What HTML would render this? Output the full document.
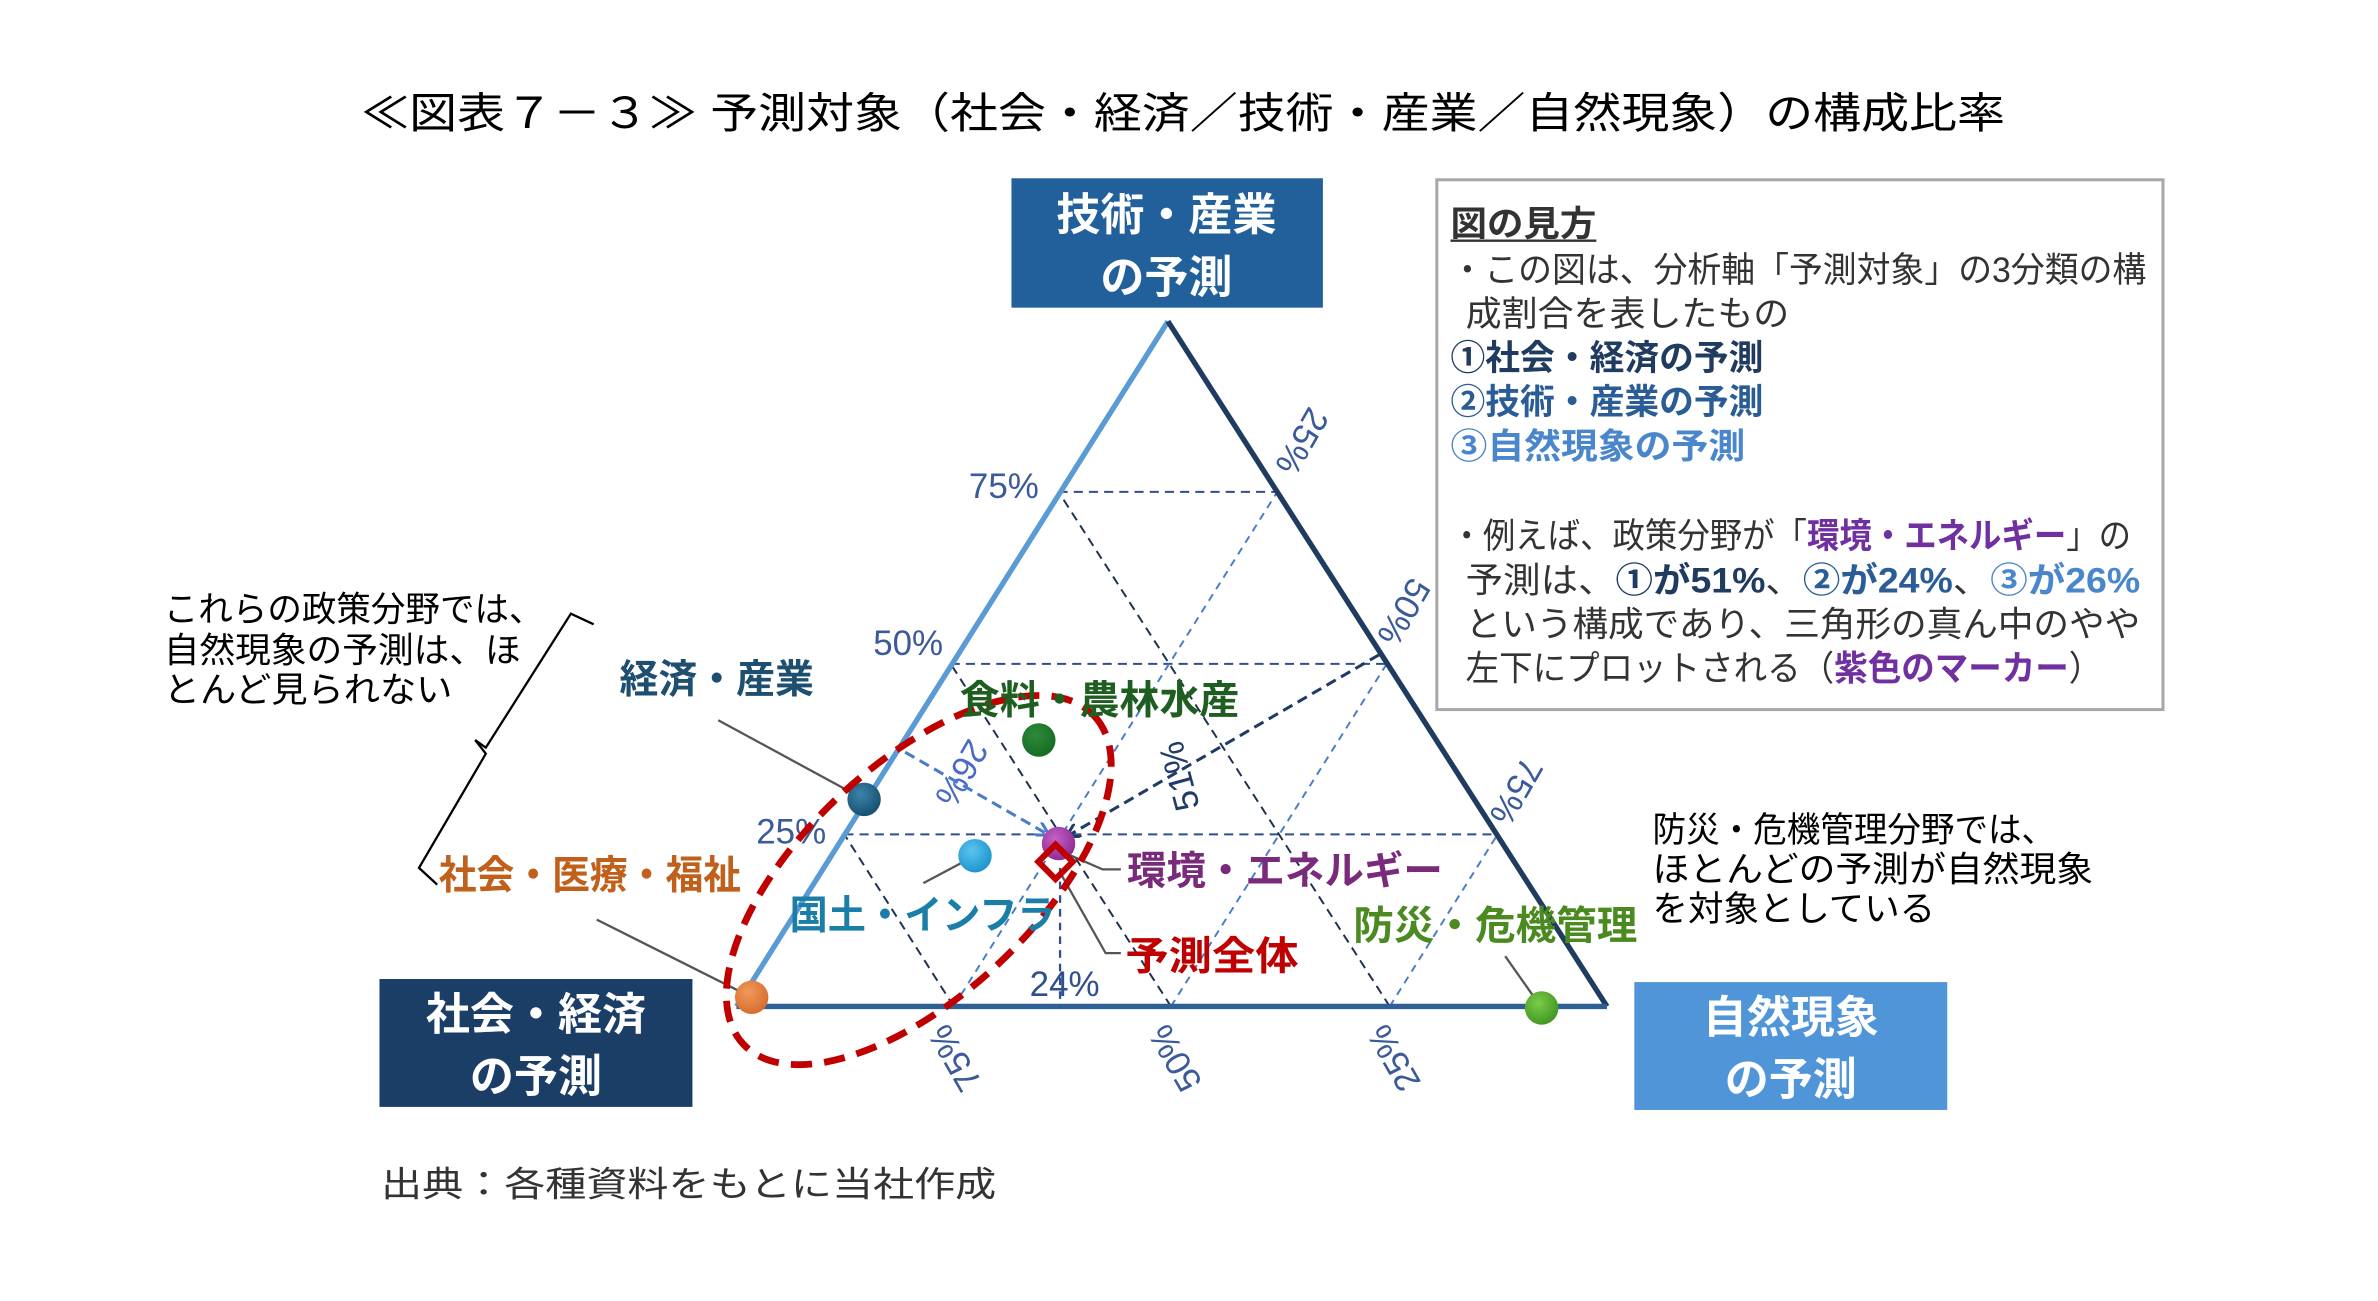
<!DOCTYPE html>
<html><head><meta charset="utf-8">
<style>
html,body{margin:0;padding:0;background:#fff;}
svg{display:block;}
text{font-family:"Liberation Sans","Noto Sans CJK JP",sans-serif;}
</style></head>
<body>
<svg width="2378" height="1301" viewBox="0 0 1560 853.4" preserveAspectRatio="none" xmlns="http://www.w3.org/2000/svg">
<defs>
<marker id="ahB" markerWidth="10" markerHeight="10" refX="8" refY="5" orient="auto" markerUnits="userSpaceOnUse"><path d="M0,0 L9,5 L0,10" fill="none" stroke="#1f3b66" stroke-width="2"/></marker>
<marker id="ahL" markerWidth="10" markerHeight="10" refX="8" refY="5" orient="auto" markerUnits="userSpaceOnUse"><path d="M0,0 L9,5 L0,10" fill="none" stroke="#4a7cc8" stroke-width="2"/></marker>
<radialGradient id="g1" cx="0.4" cy="0.35" r="0.7"><stop offset="0" stop-color="#3b84a8"/><stop offset="1" stop-color="#154d6e"/></radialGradient>
<radialGradient id="g2" cx="0.4" cy="0.35" r="0.7"><stop offset="0" stop-color="#f09a5a"/><stop offset="1" stop-color="#d66a2a"/></radialGradient>
<radialGradient id="g3" cx="0.4" cy="0.35" r="0.7"><stop offset="0" stop-color="#5cc4ee"/><stop offset="1" stop-color="#1a92cc"/></radialGradient>
<radialGradient id="g4" cx="0.4" cy="0.35" r="0.7"><stop offset="0" stop-color="#2e8a3a"/><stop offset="1" stop-color="#166a22"/></radialGradient>
<radialGradient id="g5" cx="0.4" cy="0.35" r="0.7"><stop offset="0" stop-color="#c460c8"/><stop offset="1" stop-color="#8a2a90"/></radialGradient>
<radialGradient id="g6" cx="0.4" cy="0.35" r="0.7"><stop offset="0" stop-color="#7acc4a"/><stop offset="1" stop-color="#3f9420"/></radialGradient>
</defs>
<g transform="translate(-2.2,-1.9) scale(0.9966,0.9986)">

<!-- title -->
<text x="240" y="86" font-size="28" fill="#000" textLength="1082" lengthAdjust="spacingAndGlyphs">≪図表７－３≫ 予測対象（社会・経済／技術・産業／自然現象）の構成比率</text>

<!-- corner boxes -->
<rect x="668" y="119" width="205" height="85" fill="#22609b"/>
<text x="770" y="153" font-size="29" font-weight="bold" fill="#fff" text-anchor="middle">技術・産業</text>
<text x="770" y="194" font-size="29" font-weight="bold" fill="#fff" text-anchor="middle">の予測</text>
<rect x="252" y="645" width="206" height="84" fill="#1b3e66"/>
<text x="355" y="678" font-size="29" font-weight="bold" fill="#fff" text-anchor="middle">社会・経済</text>
<text x="355" y="719" font-size="29" font-weight="bold" fill="#fff" text-anchor="middle">の予測</text>
<rect x="1078" y="647" width="206" height="84" fill="#4f95d7"/>
<text x="1181" y="680" font-size="29" font-weight="bold" fill="#fff" text-anchor="middle">自然現象</text>
<text x="1181" y="721" font-size="29" font-weight="bold" fill="#fff" text-anchor="middle">の予測</text>

<!-- legend -->
<rect x="948" y="120" width="478" height="348" fill="#fff" stroke="#a8a8a8" stroke-width="2"/>
<g font-size="23" fill="#333">
<text x="957" y="157" font-weight="bold" textLength="96" lengthAdjust="spacingAndGlyphs">図の見方</text>
<line x1="957" y1="160" x2="1053" y2="160" stroke="#333" stroke-width="1.5"/>
<text x="957" y="187" textLength="458" lengthAdjust="spacingAndGlyphs">・この図は、分析軸「予測対象」の3分類の構</text>
<text x="967" y="216" textLength="213" lengthAdjust="spacingAndGlyphs">成割合を表したもの</text>
<text x="957" y="245" font-weight="bold" fill="#1f3b60" textLength="206" lengthAdjust="spacingAndGlyphs">①社会・経済の予測</text>
<text x="957" y="274" font-weight="bold" fill="#2a5d96" textLength="206" lengthAdjust="spacingAndGlyphs">②技術・産業の予測</text>
<text x="957" y="303" font-weight="bold" fill="#4a86cc" textLength="194" lengthAdjust="spacingAndGlyphs">③自然現象の予測</text>
<text x="957" y="362" textLength="448" lengthAdjust="spacingAndGlyphs">・例えば、政策分野が「<tspan fill="#7030a0" font-weight="bold">環境・エネルギー</tspan>」の</text>
<text x="967" y="391" textLength="444" lengthAdjust="spacingAndGlyphs">予測は、<tspan fill="#1f3b60" font-weight="bold">①が51%</tspan>、<tspan fill="#2a5d96" font-weight="bold">②が24%</tspan>、<tspan fill="#4a86cc" font-weight="bold">③が26%</tspan></text>
<text x="967" y="420" textLength="444" lengthAdjust="spacingAndGlyphs">という構成であり、三角形の真ん中のやや</text>
<text x="967" y="449" textLength="419" lengthAdjust="spacingAndGlyphs">左下にプロットされる（<tspan fill="#7030a0" font-weight="bold">紫色のマーカー</tspan>）</text>
</g>

<!-- grid lines -->
<g fill="none" stroke-width="1.3">
<g stroke="#2f4f8f" stroke-dasharray="6 4">
<line x1="558" y1="550" x2="988" y2="550"/>
<line x1="628" y1="438" x2="915" y2="438"/>
<line x1="699" y1="325" x2="843" y2="325"/>
</g>
<g stroke="#1f3050" stroke-dasharray="6 4">
<line x1="630" y1="663" x2="558" y2="550"/>
<line x1="773" y1="663" x2="628" y2="438"/>
<line x1="917" y1="663" x2="699" y2="325"/>
</g>
<g stroke="#4a7cc8" stroke-dasharray="5 4">
<line x1="630" y1="663" x2="843" y2="325"/>
<line x1="773" y1="663" x2="915" y2="438"/>
<line x1="917" y1="663" x2="988" y2="550"/>
</g>
</g>

<!-- triangle -->
<line x1="487" y1="663" x2="771" y2="213" stroke="#5b9bd5" stroke-width="3.5"/>
<line x1="771" y1="213" x2="1060" y2="663" stroke="#1f3b60" stroke-width="3.5"/>
<line x1="487" y1="663" x2="1060" y2="663" stroke="#2e5f95" stroke-width="3.5"/>

<!-- axis labels -->
<g font-size="23" fill="#3a5a9a">
<text x="640" y="329">75%</text>
<text x="577" y="432">50%</text>
<text x="500" y="556">25%</text>
<text transform="translate(864,268) rotate(120)">25%</text>
<text transform="translate(931,380) rotate(120)">50%</text>
<text transform="translate(1005,498) rotate(120)">75%</text>
<text transform="translate(649,713) rotate(-120)">75%</text>
<text transform="translate(794,713) rotate(-120)">50%</text>
<text transform="translate(938,713) rotate(-120)">25%</text>
<text x="680" y="656" fill="#2f4f8f">24%</text>
<text transform="translate(640,486) rotate(120)" fill="#4a6cc0">26%</text>
<text transform="translate(792,532) rotate(-105)" fill="#1f3b66">51%</text>
</g>

<!-- arrows -->
<line x1="910" y1="432" x2="705" y2="551" stroke="#1f3b66" stroke-width="2" stroke-dasharray="7 4" marker-end="url(#ahB)"/>
<line x1="598" y1="496" x2="692" y2="550" stroke="#4a7cc8" stroke-width="2" stroke-dasharray="7 4" marker-end="url(#ahL)"/>
<line x1="700" y1="572" x2="700" y2="663" stroke="#2f4f8f" stroke-width="1.5" stroke-dasharray="5 4"/>

<!-- leaders -->
<g stroke="#555" stroke-width="1.5" fill="none">
<line x1="475" y1="475" x2="571" y2="527"/>
<line x1="395" y1="606" x2="497" y2="657"/>
<line x1="610" y1="582" x2="644" y2="564"/>
<polyline points="705,563 728,573 740,573"/>
<polyline points="700,575 730,628 740,628"/>
<line x1="993" y1="630" x2="1017" y2="664"/>
</g>

<!-- points -->
<circle cx="571" cy="527" r="11" fill="url(#g1)"/>
<circle cx="497" cy="657" r="11" fill="url(#g2)"/>
<circle cx="644" cy="564" r="11" fill="url(#g3)"/>
<circle cx="686" cy="488" r="11" fill="url(#g4)"/>
<circle cx="699" cy="556" r="11" fill="url(#g5)"/>
<circle cx="1017" cy="664" r="11" fill="url(#g6)"/>
<rect x="689" y="560" width="16" height="16" fill="none" stroke="#c00000" stroke-width="4" transform="rotate(45 697 568)"/>

<!-- red ellipse -->
<ellipse cx="607" cy="580" rx="158" ry="76" fill="none" stroke="#c00000" stroke-width="4.5" stroke-dasharray="14 8" transform="rotate(-43 607 580)"/>

<!-- category labels -->
<g font-size="26" font-weight="bold">
<text x="410" y="457" fill="#1e4e70" textLength="128" lengthAdjust="spacingAndGlyphs">経済・産業</text>
<text x="291" y="586" fill="#c0601a" textLength="199" lengthAdjust="spacingAndGlyphs">社会・医療・福祉</text>
<text x="522" y="612" fill="#1a7ea8" textLength="175" lengthAdjust="spacingAndGlyphs">国土・インフラ</text>
<text x="634" y="471" fill="#1e5e20" textLength="184" lengthAdjust="spacingAndGlyphs">食料・農林水産</text>
<text x="744" y="583" fill="#7a2a7a" textLength="208" lengthAdjust="spacingAndGlyphs">環境・エネルギー</text>
<text x="743" y="639" fill="#c00000" textLength="114" lengthAdjust="spacingAndGlyphs">予測全体</text>
<text x="893" y="619" fill="#4a8a20" textLength="187" lengthAdjust="spacingAndGlyphs">防災・危機管理</text>
</g>

<!-- annotations -->
<g font-size="23" fill="#000">
<text x="110" y="410" textLength="250" lengthAdjust="spacingAndGlyphs">これらの政策分野では、</text>
<text x="110" y="437" textLength="235" lengthAdjust="spacingAndGlyphs">自然現象の予測は、ほ</text>
<text x="110" y="463" textLength="190" lengthAdjust="spacingAndGlyphs">とんど見られない</text>
<text x="1090" y="555" textLength="265" lengthAdjust="spacingAndGlyphs">防災・危機管理分野では、</text>
<text x="1090" y="581" textLength="290" lengthAdjust="spacingAndGlyphs">ほとんどの予測が自然現象</text>
<text x="1090" y="607" textLength="186" lengthAdjust="spacingAndGlyphs">を対象としている</text>
</g>
<polyline points="393,412 378,405 322,493 315,488 322,497 278,572 290,583" fill="none" stroke="#000" stroke-width="1.5"/>

<!-- source -->
<text x="253" y="788" font-size="23" fill="#333" font-family="'Liberation Serif','Noto Serif CJK SC',serif" textLength="405" lengthAdjust="spacingAndGlyphs">出典：各種資料をもとに当社作成</text>
</g>
</svg>
</body></html>
